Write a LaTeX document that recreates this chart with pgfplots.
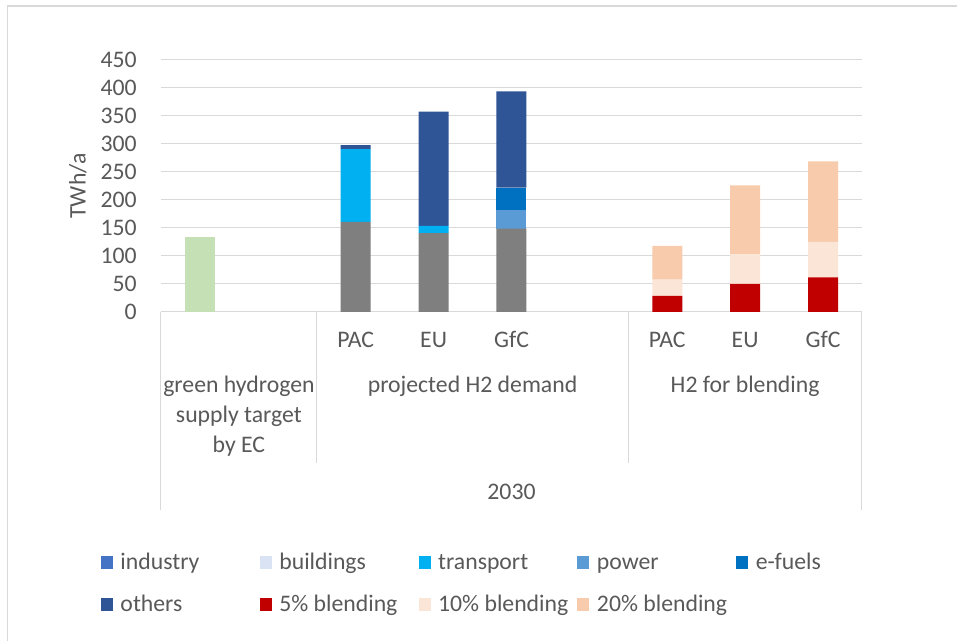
\documentclass[border=0pt]{standalone}
\usepackage{fontspec}
\setmainfont{Carlito}
\usepackage{pgfplots}
\pgfplotsset{compat=1.18}
\definecolor{textcol}{HTML}{595959}
\definecolor{gridcol}{HTML}{D9D9D9}
\definecolor{greencol}{HTML}{C5E0B4}
\definecolor{graycol}{HTML}{7F7F7F}
\definecolor{industrycol}{HTML}{4472C4}
\definecolor{buildingscol}{HTML}{DAE3F3}
\definecolor{transportcol}{HTML}{00B0F0}
\definecolor{powercol}{HTML}{5B9BD5}
\definecolor{efuelscol}{HTML}{0070C0}
\definecolor{otherscol}{HTML}{2F5597}
\definecolor{bfivecol}{HTML}{C00000}
\definecolor{btencol}{HTML}{FBE5D6}
\definecolor{btwentycol}{HTML}{F8CBAD}
\newcommand{\cf}{\fontsize{17.8pt}{21pt}\selectfont}
\newcommand{\lt}[1]{\makebox[104.5pt][l]{\rule[-4pt]{0pt}{16pt}#1}}
\pgfplotsset{
  sq/.style={legend image code/.code={\fill[##1,draw=none] (0pt,0pt) rectangle (9pt,9.75pt); \path[draw=none,fill=none] (14.625pt,0pt);}},
}
\begin{document}
\begin{tikzpicture}
\useasboundingbox (0,0) rectangle (717.75pt,480.75pt);
\fill[white] (0,0) rectangle (717.75pt,480.75pt);
\draw[gridcol, line width=1.2pt] (5.5pt,-5pt) -- (5.5pt,476.25pt) -- (725pt,476.25pt);
\begin{axis}[
  at={(120.75pt,246.75pt)}, anchor=south west,
  scale only axis, width=525.75pt, height=189pt,
  ybar stacked, bar width=22.5pt,
  xmin=-0.5, xmax=8.5, ymin=0, ymax=450,
  clip=false,
  axis line style={draw=none},
  tick style={draw=none},
  ymajorgrids, grid style={gridcol, line width=0.75pt},
  ytick={0,50,...,450},
  xtick={2,3,4,6,7,8},
  xticklabels={PAC,EU,GfC,PAC,EU,GfC},
  /pgf/number format/assume math mode=true,
  yticklabel style={font=\cf, text=textcol, anchor=east, inner sep=0pt, xshift=-18pt},
  xticklabel style={font=\cf, text=textcol, anchor=base, inner sep=0pt, yshift=-26.5pt},
  ylabel={TWh/a},
  every axis y label/.style={at={([xshift=-62.25pt]rel axis cs:0,0.5)}, rotate=90, anchor=center, font=\cf, text=textcol},
  legend columns=5,
  legend style={at={(axis description cs:0,0)}, anchor=north west, xshift=-45pt, yshift=-180.75pt, draw=none, fill=none, inner sep=0pt, outer sep=0pt, column sep=0pt, row sep=17.4pt, font=\cf, nodes={inner sep=0pt, anchor=base west, text=textcol}},
]
\addplot[fill=greencol, draw=none, forget plot] coordinates {(0,134) (2,0) (3,0) (4,0) (6,0) (7,0) (8,0)};
\addplot[fill=graycol, draw=none, forget plot] coordinates {(0,0) (2,161) (3,141) (4,149) (6,0) (7,0) (8,0)};
\addlegendimage{fill=industrycol, draw=none, no marks, sq}
\addlegendentry{\lt{industry}}
\addlegendimage{fill=buildingscol, draw=none, no marks, sq}
\addlegendentry{\lt{buildings}}
\addplot[fill=transportcol, draw=none, sq] coordinates {(0,0) (2,130) (3,13) (4,0) (6,0) (7,0) (8,0)};
\addlegendentry{\lt{transport}}
\addplot[fill=powercol, draw=none, sq] coordinates {(0,0) (2,0) (3,0) (4,34) (6,0) (7,0) (8,0)};
\addlegendentry{\lt{power}}
\addplot[fill=efuelscol, draw=none, sq] coordinates {(0,0) (2,0) (3,0) (4,39) (6,0) (7,0) (8,0)};
\addlegendentry{\lt{e-fuels}}
\addplot[fill=otherscol, draw=none, sq] coordinates {(0,0) (2,7) (3,204) (4,172) (6,0) (7,0) (8,0)};
\addlegendentry{\lt{others}}
\addplot[fill=bfivecol, draw=none, sq] coordinates {(0,0) (2,0) (3,0) (4,0) (6,29) (7,50) (8,62)};
\addlegendentry{\lt{5\% blending}}
\addplot[fill=btencol, draw=none, sq] coordinates {(0,0) (2,0) (3,0) (4,0) (6,29) (7,53) (8,63)};
\addlegendentry{\lt{10\% blending}}
\addplot[fill=btwentycol, draw=none, sq] coordinates {(0,0) (2,0) (3,0) (4,0) (6,60) (7,123) (8,144)};
\addlegendentry{\lt{20\% blending}}
% category separators
\draw[gridcol, line width=0.75pt] (axis cs:-0.5,0) -- ++(0pt,-148.5pt);
\draw[gridcol, line width=0.75pt] (axis cs:8.5,0) -- ++(0pt,-148.5pt);
\draw[gridcol, line width=0.75pt] (axis cs:1.5,0) -- ++(0pt,-113pt);
\draw[gridcol, line width=0.75pt] (axis cs:5.5,0) -- ++(0pt,-113pt);
% group labels
\node[font=\cf, text=textcol, anchor=base, inner sep=0pt] at ([yshift=-60.75pt]axis cs:0.5,0) {green hydrogen};
\node[font=\cf, text=textcol, anchor=base, inner sep=0pt] at ([yshift=-83.25pt]axis cs:0.5,0) {supply target};
\node[font=\cf, text=textcol, anchor=base, inner sep=0pt] at ([yshift=-105.75pt]axis cs:0.5,0) {by EC};
\node[font=\cf, text=textcol, anchor=base, inner sep=0pt] at ([yshift=-60.75pt]axis cs:3.5,0) {projected H2 demand};
\node[font=\cf, text=textcol, anchor=base, inner sep=0pt] at ([yshift=-60.75pt]axis cs:7,0) {H2 for blending};
\node[font=\cf, text=textcol, anchor=base, inner sep=0pt] at ([yshift=-140.5pt]axis cs:4,0) {2030};
\end{axis}
\end{tikzpicture}
\end{document}
